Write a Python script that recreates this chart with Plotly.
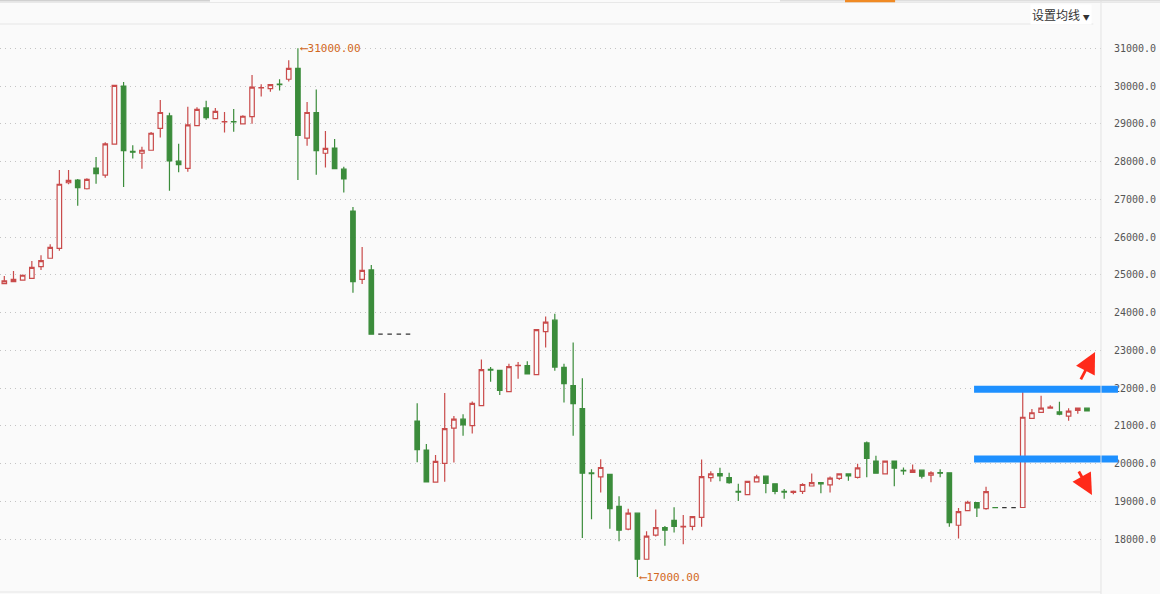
import plotly.graph_objects as go

# daily candles (index = trading day)
opens = [24770, 24820, 24860, 24910, 25220, 25440, 25700, 27440, 27510, 27280,
         27830, 27640, 28460, 30000, 28270, 28220, 28300, 28880, 29210, 28010,
         27820, 28950, 29420, 29140, 29050, 29060, 29000, 29190, 29950, 29930,
         30050, 30180, 30470, 28620, 29300, 28220, 28360, 27800, 26690, 24880,
         25130, 23430, 23430, 23430, 23430, 21130, 20360, 19510, 20010, 20940,
         21180, 21010, 21540, 22500, 22470, 21910, 22595, 22600, 22360, 23500,
         23800, 22550, 22070, 21460, 19755, 19650, 19720, 18870, 18270, 18690,
         17470, 18110, 18310, 18500, 18330, 18340, 18580, 19630, 19740, 19630,
         19265, 19180, 19520, 19670, 19470, 19265, 19240, 19270, 19410, 19500,
         19440, 19610, 19730, 19640, 20550, 20070, 19730, 20070, 19825, 19770,
         19830, 19700, 19765, 19760, 18370, 18760, 18970, 18810, 18840, 18835,
         18835, 18840, 21200, 21360, 21470, 21370, 21260, 21410, 21470]
highs = [24970, 25100, 25010, 25370, 25520, 25810, 27780, 27780, 27540, 27560,
         28120, 28510, 30030, 30110, 28430, 28390, 28780, 29630, 29290, 28470,
         29450, 29440, 29610, 29420, 29310, 29390, 29230, 30290, 30050, 30040,
         30180, 30680, 31000, 29580, 29910, 28810, 28600, 27860, 26800, 25740,
         25260, 23430, 23430, 23430, 23430, 21600, 20520, 20230, 21870, 21260,
         21310, 21650, 22760, 22560, 22470, 22650, 22690, 22710, 23550, 23900,
         23970, 22650, 23210, 22260, 19850, 20120, 19720, 19140, 18810, 18690,
         18210, 18790, 18350, 18850, 18640, 18600, 20110, 19800, 19890, 19760,
         19470, 19530, 19710, 19690, 19470, 19330, 19290, 19480, 19740, 19500,
         19660, 19750, 19730, 20000, 20590, 20210, 20070, 20070, 19900, 19980,
         19830, 19800, 19850, 19760, 18830, 19020, 18970, 19390, 18840, 18835,
         18835, 21910, 21450, 21800, 21550, 21640, 21470, 21470, 21470]
lows = [24760, 24820, 24850, 24910, 25130, 25440, 25640, 27400, 26830, 27260,
        27410, 27570, 28460, 27330, 28080, 27810, 28300, 28640, 27230, 27720,
        27730, 28950, 29110, 29140, 28770, 28790, 29000, 29000, 29720, 29850,
        29880, 30120, 27510, 28420, 27650, 27840, 27810, 27180, 24530, 24760,
        23430, 23430, 23430, 23430, 23430, 20040, 19520, 19510, 19520, 20030,
        20740, 20800, 21540, 22170, 21820, 21890, 22250, 22380, 22360, 23080,
        22460, 21620, 20740, 18030, 18530, 19240, 18280, 17950, 18240, 17000,
        17470, 18070, 17830, 18180, 17870, 18240, 18330, 19520, 19535, 19470,
        19010, 19180, 19510, 19220, 19190, 19070, 19190, 19200, 19410, 19220,
        19240, 19570, 19550, 19610, 19640, 19750, 19730, 19400, 19710, 19770,
        19610, 19510, 19640, 18330, 18020, 18760, 18590, 18780, 18835, 18835,
        18835, 18840, 21200, 21340, 21470, 21280, 21140, 21320, 21400]
closes = [24840, 24880, 24990, 25200, 25380, 25730, 27400, 27500, 27310, 27530,
          27680, 28470, 30020, 28290, 28250, 28300, 28750, 29300, 28020, 27920,
          28970, 29380, 29160, 29330, 29060, 29050, 29200, 29970, 29960, 30040,
          30040, 30470, 28690, 29300, 28290, 28350, 27810, 27540, 24820, 25120,
          23430, 23430, 23430, 23430, 23430, 20370, 19520, 20060, 20930, 21180,
          21030, 21600, 22490, 22480, 21940, 22570, 22605, 22380, 23550, 23750,
          22560, 22120, 21590, 19750, 19740, 19900, 18810, 18240, 18690, 17470,
          18080, 18310, 18240, 18340, 18340, 18600, 19660, 19730, 19680, 19500,
          19250, 19530, 19650, 19480, 19270, 19250, 19270, 19450, 19500, 19465,
          19620, 19730, 19680, 19890, 20140, 19750, 20070, 19880, 19810, 19830,
          19670, 19760, 19750, 18440, 18730, 18980, 18830, 19260, 18835, 18835,
          18835, 21230, 21350, 21470, 21500, 21310, 21390, 21470, 21400]

days = list(range(len(opens)))

# hand drawn levels and the right edge arrows
levels = [21970, 20125]
arrow_tips = [22960, 19170]

RED = "#c94b4b"
GREEN = "#3b8c3b"
BG = "#fafafa"

# split out days where nothing traded (open = high = low = close)
flat = [o == h == l == c for o, h, l, c in zip(opens, highs, lows, closes)]
idx_move = [i for i in days if not flat[i]]
idx_flat = [i for i in days if flat[i]]

fig = go.Figure()

fig.add_trace(
    go.Candlestick(
        x=[days[i] for i in idx_move],
        open=[opens[i] for i in idx_move],
        high=[highs[i] for i in idx_move],
        low=[lows[i] for i in idx_move],
        close=[closes[i] for i in idx_move],
        increasing=dict(line=dict(color=RED, width=1.2), fillcolor=BG),
        decreasing=dict(line=dict(color=GREEN, width=1.2), fillcolor=GREEN),
        showlegend=False,
        hoverinfo="skip",
    )
)

fig.add_trace(
    go.Candlestick(
        x=[days[i] for i in idx_flat],
        open=[opens[i] for i in idx_flat],
        high=[highs[i] for i in idx_flat],
        low=[lows[i] for i in idx_flat],
        close=[closes[i] for i in idx_flat],
        increasing=dict(line=dict(color="#333333", width=1.2), fillcolor="#333333"),
        decreasing=dict(line=dict(color="#333333", width=1.2), fillcolor="#333333"),
        showlegend=False,
        hoverinfo="skip",
    )
)

# max / min markers
i_max = highs.index(max(highs))
i_min = lows.index(min(lows))
mark_font = dict(family="DejaVu Sans Mono", size=11, color="#d2691e")
annotations = [
    dict(x=i_max, y=highs[i_max], xref="x", yref="y", text="⟵%.2f" % highs[i_max],
         showarrow=False, xanchor="left", yanchor="middle", xshift=0, font=mark_font),
    dict(x=i_min, y=lows[i_min], xref="x", yref="y", text="⟵%.2f" % lows[i_min],
         showarrow=False, xanchor="left", yanchor="middle", xshift=0, font=mark_font),
    # header button
    dict(x=1.0, y=1.0176, xref="paper", yref="paper",
         text="设置均线 <span style='font-size:7px'>▼</span>",
         showarrow=False, xanchor="right", yanchor="middle", xshift=-9,
         font=dict(family="Noto Sans CJK SC", size=12, color="#333333"),
         bgcolor="#ffffff"),
]

# red arrows next to the blue levels
for tip, ax, ay, xp in zip(arrow_tips, [-15, -14], [29, -25], [0.9946, 0.9918]):
    annotations.append(
        dict(x=xp, y=tip, xref="paper", yref="y", text="", showarrow=True,
             ax=ax, ay=ay, arrowhead=2, arrowsize=1.5, arrowwidth=2.8,
             arrowcolor="#ff2a1a")
    )

shapes = []
for lv in levels:
    shapes.append(dict(type="line", xref="paper", yref="y", x0=0.8847, x1=1.0154,
                       y0=lv, y1=lv, line=dict(color="#1e90ff", width=7)))

# frame lines: header separator, right divider, top strips
shapes += [
    dict(type="line", xref="paper", yref="paper", x0=0, x1=0.993, y0=1, y1=1,
         line=dict(color="#e6e6e6", width=1)),
    dict(type="line", xref="paper", yref="paper", x0=1.0, x1=1.0, y0=-0.01, y1=1.05,
         line=dict(color="#e3e3e3", width=1)),
    dict(type="line", xref="paper", yref="paper", x0=0, x1=1.06, y0=1.0378, y1=1.0378,
         line=dict(color="#e8e8e8", width=1)),
    dict(type="rect", xref="paper", yref="paper", x0=0, x1=0.1907, y0=1.0395, y1=1.045,
         line=dict(width=0), fillcolor="#d0d0d0"),
    dict(type="rect", xref="paper", yref="paper", x0=0.7084, x1=1.06, y0=1.0395, y1=1.045,
         line=dict(width=0), fillcolor="#dedede"),
    dict(type="rect", xref="paper", yref="paper", x0=0.7675, x1=0.813, y0=1.0385, y1=1.045,
         line=dict(width=0), fillcolor="#f08a24"),
    dict(type="line", xref="paper", yref="paper", x0=0, x1=1.0, y0=0, y1=0,
         line=dict(color="#e6e6e6", width=1)),
]

fig.update_layout(
    width=1160,
    height=594,
    margin=dict(l=0, r=59, t=24, b=2),
    paper_bgcolor=BG,
    plot_bgcolor=BG,
    showlegend=False,
    annotations=annotations,
    shapes=shapes,
    xaxis=dict(
        range=[-0.47, 119.53],
        rangeslider=dict(visible=False),
        showgrid=False,
        showticklabels=False,
        zeroline=False,
        ticks="",
    ),
    yaxis=dict(
        side="right",
        range=[16603, 31643],
        tickvals=list(range(18000, 32000, 1000)),
        tickformat=".1f",
        showgrid=True,
        gridcolor="#c4c4c4",
        griddash="1px,4px",
        gridwidth=1,
        zeroline=False,
        ticks="",
        ticklabelstandoff=12,
        tickfont=dict(family="DejaVu Sans Mono", size=10, color="#555555"),
    ),
)

# page body has a default 8px margin; drop it so the figure fills the window
fig.write_html(
    "out.html",
    config={"displayModeBar": False},
    post_script="document.body.style.margin='0px';document.body.style.overflow='hidden';",
)
